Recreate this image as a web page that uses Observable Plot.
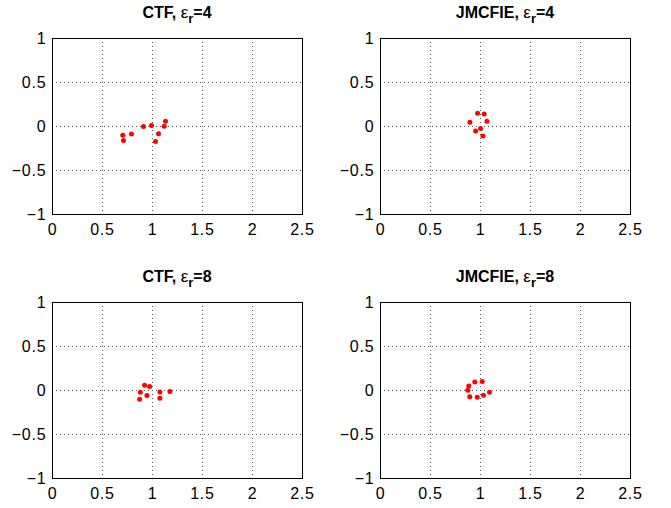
<!DOCTYPE html>
<html><head><meta charset="utf-8">
<script src="https://cdn.jsdelivr.net/npm/d3@7"></script>
<script src="https://cdn.jsdelivr.net/npm/@observablehq/plot@0.6"></script>
<style>
body{margin:0;background:#fff;}
#root{position:relative;width:671px;height:508px;background:#fff;font-family:"Liberation Sans",Arial,Helvetica,sans-serif;}
.panel{position:absolute;}
.panel text{letter-spacing:0.8px;}
.title{position:absolute;font-weight:bold;font-size:16px;white-space:nowrap;transform:translateX(-50%);line-height:1;color:#000;}
.title .eps{font-weight:normal;font-size:17px;}
.title sub{font-size:13px;vertical-align:-5px;line-height:0;}
</style></head><body><div id="root"></div>
<script>
const xTicks = [0, 0.5, 1, 1.5, 2, 2.5];
const yTicks = [-1, -0.5, 0, 0.5, 1];

const titles = ["CTF", "JMCFIE", "CTF", "JMCFIE"];
const epsValues = [4, 4, 8, 8];

const ctf4X = [0.703, 0.71, 0.79, 0.91, 0.99, 1.06, 1.03, 1.117, 1.13];
const ctf4Y = [-0.10, -0.158, -0.086, 0.0, 0.011, -0.083, -0.17, 0.004, 0.06];

const jm4X = [0.971, 1.037, 0.894, 1.064, 0.951, 1.001, 1.024];
const jm4Y = [0.151, 0.143, 0.049, 0.06, -0.05, -0.023, -0.107];

const ctf8X = [0.921, 0.971, 0.878, 0.944, 0.871, 1.074, 1.074, 1.174];
const ctf8Y = [0.06, 0.045, -0.02, -0.057, -0.099, -0.016, -0.088, -0.011];

const jm8X = [0.873, 0.883, 0.893, 0.943, 0.967, 1.017, 1.03, 1.09];
const jm8Y = [0.004, 0.05, -0.072, 0.098, -0.076, 0.102, -0.053, -0.019];

const seriesX = [ctf4X, jm4X, ctf8X, jm8X];
const seriesY = [ctf4Y, jm4Y, ctf8Y, jm8Y];

const fmt = d => d < 0 ? "\u2212" + Math.abs(d) : String(d);
const root = document.getElementById("root");

const lefts = [0, 328, 0, 328];
const tops = [28, 28, 292, 292];
const titleTops = [3.5, 3.5, 267.5, 267.5];

for (let i = 0; i < 4; i++) {
  const pts = seriesX[i].map((x, j) => ({x, y: seriesY[i][j]}));
  const chart = Plot.plot({
    width: 317, height: 216,
    marginLeft: 52, marginRight: 15, marginTop: 10, marginBottom: 30,
    x: {domain: [0, 2.5]},
    y: {domain: [-1, 1]},
    style: {fontFamily: '"Liberation Sans", Arial, Helvetica, sans-serif', fontSize: "16px", color: "black", background: "transparent", overflow: "visible"},
    marks: [
      Plot.gridX(xTicks, {stroke: "#555", strokeOpacity: 1, strokeDasharray: "1,3"}),
      Plot.gridY(yTicks, {stroke: "#555", strokeOpacity: 1, strokeDasharray: "1,3"}),
      Plot.axisX(xTicks, {tickSize: 0, tickPadding: 9, tickFormat: fmt, label: null}),
      Plot.axisY(yTicks, {tickSize: 0, tickPadding: 6, tickFormat: fmt, label: null}),
      Plot.frame({stroke: "black", strokeWidth: 1}),
      Plot.dot(pts, {x: "x", y: "y", r: 2.5, fill: "red", stroke: "none"})
    ]
  });
  chart.classList.add("panel");
  chart.style.left = lefts[i] + "px";
  chart.style.top = tops[i] + "px";
  root.appendChild(chart);

  const t = document.createElement("div");
  t.className = "title";
  t.style.left = (lefts[i] + 52 + 125) + "px";
  t.style.top = titleTops[i] + "px";
  t.innerHTML = titles[i] + ", <span class=\"eps\">\u03b5</span><sub>r</sub>=" + epsValues[i];
  root.appendChild(t);
}
</script>
</body></html>
